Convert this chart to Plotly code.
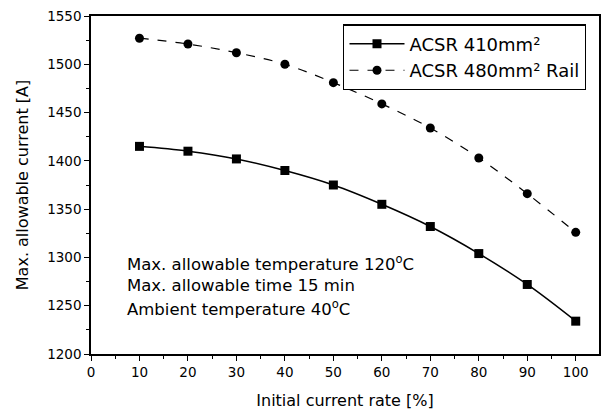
import plotly.graph_objects as go

rate = [10, 20, 30, 40, 50, 60, 70, 80, 90, 100]
acsr410 = [1415, 1410, 1402, 1390, 1375, 1355, 1332, 1304, 1272, 1234]
acsr480 = [1527, 1521, 1512, 1500, 1481, 1459, 1434, 1403, 1366, 1326]
notes = ["Max. allowable temperature 120<sup>o</sup>C",
         "Max. allowable time 15 min",
         "Ambient temperature 40<sup>o</sup>C"]
note_y = [1294, 1271, 1248]

FONT = "DejaVu Sans, Arial, sans-serif"

fig = go.Figure()
fig.add_trace(go.Scatter(
    x=rate, y=acsr410, mode="lines+markers", name="ACSR 410mm²",
    line=dict(color="black", width=1.5, shape="spline"),
    marker=dict(symbol="square", size=9, color="black")))
fig.add_trace(go.Scatter(
    x=rate, y=acsr480, mode="lines+markers", name="ACSR 480mm² Rail",
    line=dict(color="black", width=1.2, dash="dash", shape="spline"),
    marker=dict(symbol="circle", size=9, color="black")))

for t, yv in zip(notes, note_y):
    fig.add_annotation(x=7, y=yv, xref="x", yref="y", text=t,
                       showarrow=False, xanchor="left", yanchor="middle",
                       font=dict(family=FONT, size=16.5, color="black"))

axis_common = dict(showline=True, linecolor="black", linewidth=1.5, mirror=True,
                   ticks="outside", tickcolor="black", tickwidth=1.2, ticklen=5,
                   showgrid=False, zeroline=False, automargin=False,
                   tickfont=dict(family=FONT, size=13.5, color="black"))

fig.update_xaxes(range=[0, 104.8], tickmode="array", tickvals=list(range(0, 101, 10)),
                 minor=dict(ticks="outside", ticklen=3, tickcolor="black", dtick=5, tick0=0),
                 title=dict(text="Initial current rate [%]",
                            font=dict(family=FONT, size=16, color="black"), standoff=18),
                 **axis_common)
fig.update_yaxes(range=[1200, 1550], dtick=50,
                 minor=dict(ticks="outside", ticklen=3, tickcolor="black", dtick=25),
                 title=dict(text="Max. allowable current [A]",
                            font=dict(family=FONT, size=16, color="black"), standoff=15),
                 **axis_common)

fig.update_layout(
    width=605, height=410,
    margin=dict(l=91, r=6, t=16, b=56),
    plot_bgcolor="white", paper_bgcolor="white",
    font=dict(family=FONT, color="black"),
    legend=dict(x=0.975, y=0.975, xanchor="right", yanchor="top",
                bordercolor="black", borderwidth=1.2, bgcolor="white",
                font=dict(family=FONT, size=18, color="black"),
                itemwidth=55, tracegroupgap=0),
    showlegend=True,
)

fig.write_html("out.html")
